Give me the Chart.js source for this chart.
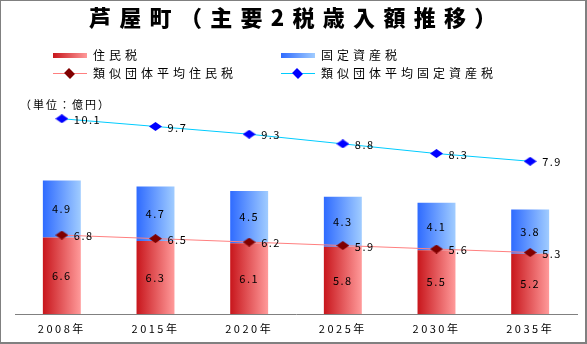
<!DOCTYPE html>
<html>
<head>
<meta charset="utf-8">
<script src="https://cdn.jsdelivr.net/npm/chart.js@4.4.0/dist/chart.umd.min.js"></script>
<style>
  html, body { margin:0; padding:0; background:#fff; }
  #wrap { position:relative; width:587px; height:344px; overflow:hidden; font-family:"Noto Sans CJK JP", sans-serif; }
  #c { position:absolute; left:0; top:0; }
  #frame { position:absolute; left:0; top:0; width:587px; height:344px; box-sizing:border-box;
           border-left:1px solid #808080; border-top:1px solid #808080; border-right:2px solid #808080; border-bottom:2px solid #808080; pointer-events:none; }
  #title { position:absolute; left:89px; top:0px; white-space:nowrap; font-weight:900; font-size:22px; letter-spacing:8.3px; color:#000; }
  .lg { position:absolute; font-size:12px; letter-spacing:4px; color:#000; line-height:14px; white-space:nowrap; }
  .sw { position:absolute; width:34px; height:5px; }
  .ln { position:absolute; width:34px; height:1px; }
  .dm { position:absolute; width:7px; height:7px; transform:rotate(45deg) scaleX(1.2); }
  #unit { position:absolute; left:20px; top:96px; font-size:11px; letter-spacing:2px; color:#000; white-space:nowrap; }
</style>
</head>
<body>
<div id="wrap">
  <canvas id="c" width="587" height="344"></canvas>
  <div id="title">芦屋町（主要2税歳入額推移）</div>
  <div class="sw" style="left:53px;top:53px;background:linear-gradient(to right,#c8161c,#ff9a9a);"></div>
  <div class="lg" style="left:93px;top:48px;">住民税</div>
  <div class="sw" style="left:281px;top:53px;background:linear-gradient(to right,#2f6bff,#a0ccff);"></div>
  <div class="lg" style="left:321px;top:48px;">固定資産税</div>
  <div class="ln" style="left:53px;top:73px;background:#ff7f7f;"></div>
  <div class="dm" style="left:66px;top:70px;background:#800000;"></div>
  <div class="lg" style="left:93px;top:66px;">類似団体平均住民税</div>
  <div class="ln" style="left:281px;top:73px;background:#00ccff;"></div>
  <div class="dm" style="left:294px;top:70px;background:#0000ff;"></div>
  <div class="lg" style="left:321px;top:66px;">類似団体平均固定資産税</div>
  <div id="unit">（単位：億円）</div>
  <div id="frame"></div>
</div>
<script>
const categories = ['2008年', '2015年', '2020年', '2025年', '2030年', '2035年'];
const juminzei = [6.6, 6.3, 6.1, 5.8, 5.5, 5.2];
const koteishisanzei = [4.9, 4.7, 4.5, 4.3, 4.1, 3.8];
const ruijiJuminzei = [6.8, 6.5, 6.2, 5.9, 5.6, 5.3];
const ruijiKotei = [10.1, 9.7, 9.3, 8.8, 8.3, 7.9];

const BAR_PCT = 0.405;

function diamond(color) {
  const cv = document.createElement('canvas');
  cv.width = 13; cv.height = 9;
  const g = cv.getContext('2d');
  g.fillStyle = color;
  g.beginPath();
  g.moveTo(0, 4.5); g.lineTo(6.5, 0); g.lineTo(13, 4.5); g.lineTo(6.5, 9); g.closePath();
  g.fill();
  return cv;
}

function barGradient(c1, c2) {
  return (ctx) => {
    const chart = ctx.chart;
    const xs = chart.scales && chart.scales.x;
    if (!xs || ctx.type !== 'data' || !chart.chartArea) return c2;
    const cx = xs.getPixelForValue(ctx.dataIndex);
    const w = (xs.width / categories.length) * BAR_PCT;
    const g = chart.ctx.createLinearGradient(cx - w / 2, 0, cx + w / 2, 0);
    g.addColorStop(0, c1);
    g.addColorStop(1, c2);
    return g;
  };
}

const labelPlugin = {
  id: 'valueLabels',
  beforeDraw(chart) { chart.ctx.letterSpacing = '2.5px'; },
  afterDatasetsDraw(chart) {
    const ctx = chart.ctx;
    ctx.save();
    ctx.letterSpacing = '1.5px';
    ctx.font = '11px "Noto Sans CJK JP", sans-serif';
    ctx.fillStyle = '#000';
    ctx.textBaseline = 'middle';
    chart.data.datasets.forEach((ds, i) => {
      const meta = chart.getDatasetMeta(i);
      meta.data.forEach((el, j) => {
        const v = ds.data[j].toFixed(1);
        if (ds.type === 'line') {
          ctx.textAlign = 'left';
          ctx.fillText(v, el.x + 12, el.y + 1);
        } else {
          ctx.textAlign = 'center';
          ctx.fillText(v, el.x, (el.y + el.base) / 2);
        }
      });
    });
    ctx.restore();
  }
};

new Chart(document.getElementById('c'), {
  data: {
    labels: categories,
    datasets: [
      { type: 'line', label: '類似団体平均固定資産税', data: ruijiKotei, yAxisID: 'y2', order: 0,
        borderColor: '#00ccff', borderWidth: 1, pointStyle: diamond('#0000ff'), pointRadius: 5 },
      { type: 'line', label: '類似団体平均住民税', data: ruijiJuminzei, yAxisID: 'y', order: 0,
        borderColor: '#ff7f7f', borderWidth: 1, pointStyle: diamond('#800000'), pointRadius: 5 },
      { type: 'bar', label: '住民税', data: juminzei, stack: 's', order: 1,
        backgroundColor: barGradient('#c8161c', '#ff9a9a'), barPercentage: BAR_PCT, categoryPercentage: 1 },
      { type: 'bar', label: '固定資産税', data: koteishisanzei, stack: 's', order: 1,
        backgroundColor: barGradient('#2f6bff', '#a0ccff'), barPercentage: BAR_PCT, categoryPercentage: 1 }
    ]
  },
  options: {
    responsive: false,
    animation: false,
    layout: { padding: { left: 15, right: 10, top: 82, bottom: 0 } },
    plugins: { legend: { display: false }, title: { display: false }, tooltip: { enabled: false } },
    scales: {
      x: {
        stacked: true,
        grid: { display: false, drawTicks: false },
        border: { display: true, color: '#808080', width: 1 },
        ticks: { color: '#000', padding: 8, font: { family: '"Noto Sans CJK JP", sans-serif', size: 11 } },
        afterFit(s) { s.height = 30; }
      },
      y: { stacked: true, display: false, min: 0, max: 20 },
      y2: { display: false, min: 0, max: 12, position: 'right' }
    }
  },
  plugins: [labelPlugin]
});
</script>
</body>
</html>
